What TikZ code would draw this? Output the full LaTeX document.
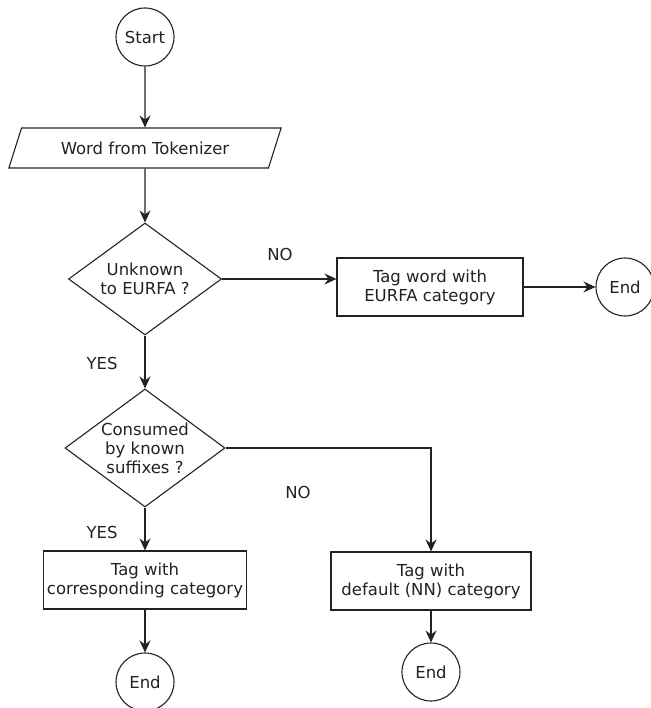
\documentclass[tikz,border=0pt]{standalone}
\usepackage{fontspec}
\setmainfont{DejaVu Sans}
\usetikzlibrary{shapes.geometric,arrows.meta}
\definecolor{ink}{HTML}{222222}
\begin{document}
\begin{tikzpicture}[x=1pt,y=-1pt,
  every node/.style={font=\fontsize{16.5}{19}\selectfont, text=ink, align=center},
  shp/.style={draw=ink, line width=1.1pt, inner sep=0pt},
  term/.style={shp, circle, minimum size=58pt},
  io/.style={shp, trapezium, trapezium left angle=56, trapezium right angle=124, trapezium stretches=true, minimum width=273pt, minimum height=40pt},
  dec/.style={shp, diamond, aspect=1.37},
  proc/.style={shp, rectangle, minimum height=58pt},
  conn/.style={draw=ink, line width=1.1pt, -{Stealth[length=12pt,width=11pt,inset=4pt]}},
  lbl/.style={font=\fontsize{16.5}{19}\selectfont}
]
\useasboundingbox (0,0) rectangle (650,708);
\node[term] (start) at (145,37) {Start};
\node[io] (input) at (145,148) {Word from Tokenizer};
\node[dec, minimum width=153pt, minimum height=112pt] (d1) at (145,279) {Unknown\\to EURFA ?};
\node[proc, minimum width=186pt] (b1) at (430,287) {Tag word with\\EURFA category};
\node[term] (e1) at (625,287) {End};
\node[dec, minimum width=160pt, minimum height=118pt] (d2) at (145,448) {Consumed\\by known\\suffixes ?};
\node[proc, minimum width=203pt] (b2) at (145,580) {Tag with\\corresponding category};
\node[term] (e2) at (145,682) {End};
\node[proc, minimum width=200pt] (b3) at (431,581) {Tag with\\default (NN) category};
\node[term] (e3) at (431,672) {End};

\node[lbl] (lno1) at (280,254) {NO};
\node[lbl] (lyes1) at (102,363) {YES};
\node[lbl] (lno2) at (298,492) {NO};
\node[lbl] (lyes2) at (102,532) {YES};

\draw[conn] (start.south) -- (input.north);
\draw[conn] (input.south) -- (d1.north);
\draw[conn] (d1.east) -- (d1.east -| b1.west);
\draw[conn] (b1.east) -- (e1.west);
\draw[conn] (d1.south) -- (d2.north);
\draw[conn] (d2.south) -- (b2.north);
\draw[conn] (d2.east) -| (b3.north);
\draw[conn] (b2.south) -- (e2.north);
\draw[conn] (b3.south) -- (e3.north);
\end{tikzpicture}
\end{document}
